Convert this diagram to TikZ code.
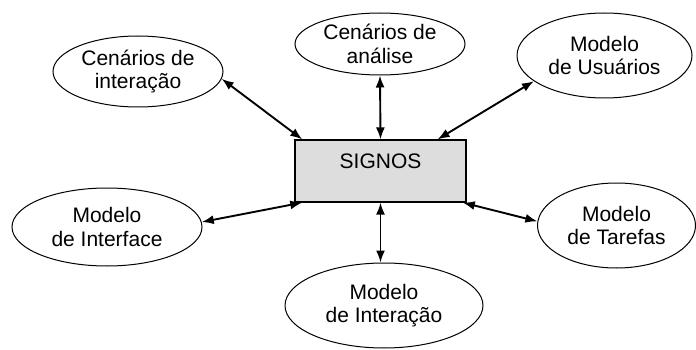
\documentclass[tikz,border=0pt]{standalone}
\usepackage{fontspec}
\setmainfont{Liberation Sans}
\usetikzlibrary{shapes.geometric,arrows.meta,positioning}

\begin{document}
\begin{tikzpicture}[x=1pt,y=-1pt,
  font=\fontsize{21}{23.5}\selectfont,
  model/.style={ellipse, draw, line width=1pt, inner sep=0pt, align=center},
  link/.style={<->, >={Latex[length=12pt,width=9pt]}, line width=1.9pt}]

 \useasboundingbox (0,0) rectangle (696,350);

 % Add the central box
 \node[draw,
       line width=1.2pt,
       fill=gray!27,
       minimum width=171pt,
       inner sep=0pt,
       text height=28.5pt,
       text depth=33.5pt] (signos) at (380.5,171) {SIGNOS};

 % Add the models around it
 \node[model, minimum width=170pt, minimum height=71pt] (cint) at (138,71.5) {Cenários de\\interação};
 \node[model, minimum width=170pt, minimum height=62pt] (cana) at (380,44) {Cenários de\\análise};
 \node[model, minimum width=175pt, minimum height=85pt] (musu) at (604.5,55.5) {Modelo\\de Usuários};
 \node[model, minimum width=190pt, minimum height=78pt] (mint) at (107,227) {Modelo\\de Interface};
 \node[model, minimum width=158pt, minimum height=85pt] (mtar) at (616.5,225.5) {Modelo\\de Tarefas};
 \node[model, minimum width=198pt, minimum height=85pt] (mitc) at (384,305.5) {Modelo\\de Interação};

 % Connect the models with the box
 \draw[link] (cint.-5) -- (signos.158);
 \draw[link] (cana.south) -- (signos.north);
 \draw[link] (musu.200) -- (signos.29);
 \draw[link] (mint.3) -- (signos.202);
 \draw[link] (mtar.177) -- (signos.-21);
 \draw[link] (signos.south) -- (signos.south |- mitc.north);
\end{tikzpicture}
\end{document}
